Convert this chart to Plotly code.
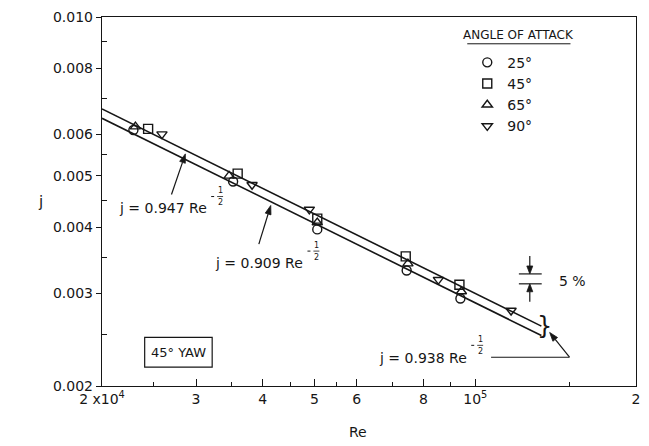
import numpy as np
import plotly.graph_objects as go

# Colburn j-factor against Reynolds number, 45° yaw, for four angles of attack
re_25 = [22900, 35200, 50600, 74400, 93800]
j_25 = [0.00611, 0.00488, 0.00396, 0.00331, 0.00293]
re_45 = [24400, 35900, 50600, 74100, 93400]
j_45 = [0.00614, 0.00505, 0.00415, 0.00352, 0.00311]
re_65 = [23100, 34600, 50600, 74800, 94200]
j_65 = [0.00620, 0.00500, 0.00408, 0.00341, 0.00302]
re_90 = [25900, 38200, 48900, 85300, 116700]
j_90 = [0.00600, 0.00481, 0.00432, 0.00318, 0.00278]

# correlation j = C * Re^-1/2 (upper, lower, mean)
c_upper = 0.947
c_lower = 0.909
c_mean = 0.938
re_fit = [20000, 133000]

x_ticks = [2e4, 3e4, 4e4, 5e4, 6e4, 8e4, 1e5, 2e5]
x_ticktext = ["2 x10<sup>4</sup>", "3", "4", "5", "6", "8", "10<sup>5</sup>", "2"]
x_minor = [2.5e4, 3.5e4, 4.5e4, 5.5e4, 7e4, 9e4, 1.5e5]
y_ticks = [0.002, 0.003, 0.004, 0.005, 0.006, 0.008, 0.010]
y_ticktext = ["0.002", "0.003", "0.004", "0.005", "0.006", "0.008", "0.010"]
y_minor = [0.0025, 0.0035, 0.0045, 0.0055, 0.007, 0.009]

W, H = 649, 446
L, R, T, B = 102, 9, 14, 60
PW, PH = W - L - R, H - T - B
FONT = "DejaVu Sans"
INK = "#161616"


def px(x):
    return (x - L) / PW


def py(y):
    return (H - B - y) / PH


fig = go.Figure()

for c in (c_upper, c_lower):
    fig.add_trace(go.Scatter(
        x=re_fit, y=[c / np.sqrt(r) for r in re_fit], mode="lines",
        line=dict(color=INK, width=1.6), showlegend=False, hoverinfo="skip"))

series = [
    ("25°", re_25, j_25, "circle-open"),
    ("45°", re_45, j_45, "square-open"),
    ("65°", re_65, j_65, "triangle-up-open"),
    ("90°", re_90, j_90, "triangle-down-open"),
]
for name, xs, ys, sym in series:
    fig.add_trace(go.Scatter(
        x=xs, y=ys, mode="markers", name=name,
        marker=dict(symbol=sym, size=9, color=INK, line=dict(color=INK, width=1.4))))

ann = []
shapes = []


def text(x, y, s, size=14, xanchor="center", yanchor="middle"):
    ann.append(dict(x=px(x), y=py(y), xref="paper", yref="paper", text=s,
                    showarrow=False, xanchor=xanchor, yanchor=yanchor,
                    font=dict(family=FONT, size=size, color=INK)))


def line(x0, y0, x1, y1, width=1.2):
    shapes.append(dict(type="line", xref="paper", yref="paper",
                       x0=px(x0), y0=py(y0), x1=px(x1), y1=py(y1),
                       line=dict(color=INK, width=width)))


def arrow(xt, yt, xs, ys, head=9, half=3):
    # shaft from (xs, ys) to the tip (xt, yt), with a filled head
    dx, dy = xt - xs, yt - ys
    n = (dx * dx + dy * dy) ** 0.5
    ux, uy = dx / n, dy / n
    bx, by = xt - ux * head, yt - uy * head
    line(xs, ys, bx, by, width=1.2)
    p1 = (bx - uy * half, by + ux * half)
    p2 = (bx + uy * half, by - ux * half)
    path = "M {:.5f} {:.5f} L {:.5f} {:.5f} L {:.5f} {:.5f} Z".format(
        px(xt), py(yt), px(p1[0]), py(p1[1]), px(p2[0]), py(p2[1]))
    shapes.append(dict(type="path", xref="paper", yref="paper", path=path,
                       fillcolor=INK, line=dict(color=INK, width=0.8)))


def equation(coef, x_end, y, fx, fy):
    # "j = C Re" followed by a stacked -1/2 exponent
    text(x_end, y, f"j = {coef:.3f} Re", xanchor="right")
    line(fx - 9, fy, fx - 6, fy, width=1)
    text(fx, fy - 6, "1", size=8)
    text(fx, fy + 6, "2", size=8)
    line(fx - 3, fy, fx + 3, fy, width=0.8)


equation(c_upper, 210, 207, 221, 195)
arrow(186, 152, 172, 193)
equation(c_lower, 307, 262, 318, 250)
arrow(272, 204, 260, 243)
equation(c_mean, 472, 358, 483, 345)
line(494, 357, 573, 357)
arrow(553, 332, 573, 357)
text(548, 326, "}", size=24)

# 5 % band marker
line(522, 273, 545, 273)
line(522, 283, 545, 283)
arrow(533, 273, 533, 255, head=8)
arrow(533, 283, 533, 301, head=8)
text(560, 280, "5 %", xanchor="left")

# yaw box
shapes.append(dict(type="rect", xref="paper", yref="paper",
                   x0=px(145), y0=py(367), x1=px(213), y1=py(337),
                   line=dict(color=INK, width=1.2)))
text(179, 352, "45° YAW", size=13)

# legend heading
text(522, 32, "ANGLE OF ATTACK", size=12)
line(470, 41, 574, 41, width=1)

# axis labels
text(40, 200, "j", size=15)
text(360, 432, "Re", size=14)

fig.update_layout(
    width=W, height=H, margin=dict(l=L, r=R, t=T, b=B),
    paper_bgcolor="white", plot_bgcolor="white",
    font=dict(family=FONT, size=14, color=INK),
    annotations=ann, shapes=shapes,
    legend=dict(x=px(470), y=py(44), xanchor="left", yanchor="top",
                font=dict(family=FONT, size=14, color=INK),
                bgcolor="rgba(0,0,0,0)", tracegroupgap=0, itemwidth=30),
)
fig.update_xaxes(
    type="log", range=[np.log10(2e4), np.log10(2e5)],
    tickvals=x_ticks, ticktext=x_ticktext, ticks="inside", ticklen=7,
    tickcolor=INK, tickwidth=1.2, showgrid=False, zeroline=False,
    showline=True, linecolor=INK, linewidth=1.4, mirror=True,
    minor=dict(tickvals=x_minor, ticks="inside", ticklen=4, tickcolor=INK, showgrid=False),
    tickfont=dict(size=14))
fig.update_yaxes(
    type="log", range=[np.log10(0.002), np.log10(0.010)],
    tickvals=y_ticks, ticktext=y_ticktext, ticks="outside", ticklen=5,
    tickcolor=INK, tickwidth=1.2, showgrid=False, zeroline=False,
    showline=True, linecolor=INK, linewidth=1.4, mirror=True,
    minor=dict(tickvals=y_minor, ticks="inside", ticklen=5, tickcolor=INK, showgrid=False),
    tickfont=dict(size=14))

fig.write_html("out.html")
